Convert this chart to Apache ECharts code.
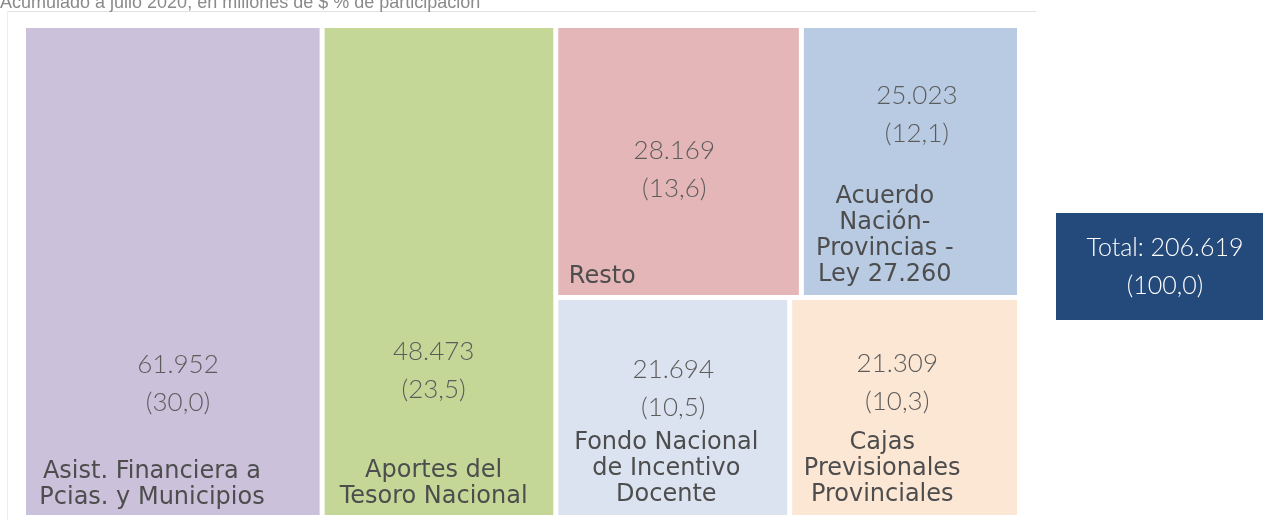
<!DOCTYPE html>
<html>
<head>
<meta charset="utf-8">
<script src="https://cdn.jsdelivr.net/npm/echarts@6/dist/echarts.min.js"></script>
<style>
  html, body { margin: 0; padding: 0; background: #fff; }
  #chart { width: 1263px; height: 524px; }
</style>
</head>
<body>
<div id="chart"></div>
<script>
// datos: acumulado a julio 2020, millones de $
const categories = [
    'Asist. Financiera a\nPcias. y Municipios',
    'Aportes del\nTesoro Nacional',
    'Resto',
    'Acuerdo\nNación-\nProvincias -\nLey 27.260',
    'Fondo Nacional\nde Incentivo\nDocente',
    'Cajas\nPrevisionales\nProvinciales'
];
const values = [61952, 48473, 28169, 25023, 21694, 21309];
const shares = [30.0, 23.5, 13.6, 12.1, 10.5, 10.3];
const total = 206619;
const totalShare = 100.0;

const colors = ['#cbc1da', '#c4d797', '#e5b6b8', '#b8cbe3', '#dce3f0', '#fce6d4'];

// ubicación de los textos dentro de cada celda
const labelBox = [
    {x: 152, y: 313, gap: 37, shift: -26},
    {x: 109, y: 300, gap: 49, shift: 0},
    {x: 116, y: 99, gap: 56, shift: -72},
    {x: 113, y: 44, gap: 31, shift: -32},
    {x: 115, y: 46, gap: 3, shift: -7},
    {x: 105, y: 40, gap: 9, shift: -15}
];

function fmtNum(v) {
    return String(v).replace(/\B(?=(\d{3})+(?!\d))/g, '.');
}
function fmtPct(p) {
    return '(' + p.toFixed(1).replace('.', ',') + ')';
}

function leaf(i) {
    const b = labelBox[i];
    const pad = b.shift < 0 ? [0, -2 * b.shift, 0, 0] : [0, 0, 0, 2 * b.shift];
    const nameLines = categories[i].split('\n').map(s => '{n|' + s + '}').join('\n');
    return {
        name: categories[i],
        value: values[i],
        itemStyle: {color: colors[i]},
        label: {
            position: [b.x, b.y],
            align: 'center',
            verticalAlign: 'top',
            formatter: '{v|' + fmtNum(values[i]) + '}\n{v|' + fmtPct(shares[i]) + '}\n{g| }\n' + nameLines,
            rich: {
                v: {fontFamily: 'Lato', fontWeight: 300, fontSize: 26, color: '#5c5c5c', lineHeight: 38},
                g: {fontSize: 1, lineHeight: b.gap},
                n: {fontFamily: 'DejaVu Sans', fontSize: 24, color: '#4d4d4d', lineHeight: 26, padding: pad}
            }
        }
    };
}

const chart = echarts.init(document.getElementById('chart'));

const option = {
    backgroundColor: '#fff',
    animation: false,
    tooltip: {show: false},
    graphic: [
        {
            type: 'line',
            shape: {x1: 7, y1: 11.5, x2: 1036, y2: 11.5},
            style: {stroke: '#e2e2e2', lineWidth: 1}
        },
        {
            type: 'line',
            shape: {x1: 7.5, y1: 11, x2: 7.5, y2: 520},
            style: {stroke: '#eeeeee', lineWidth: 1}
        },
        {
            type: 'text',
            left: 0,
            top: -6,
            style: {
                text: 'Acumulado a julio 2020, en millones de $ % de participación',
                fontFamily: 'Liberation Sans',
                fontSize: 18,
                fill: '#8a8a8a'
            }
        },
        {
            type: 'group',
            right: 0,
            top: 213,
            children: [
                {
                    type: 'rect',
                    shape: {x: 0, y: 0, width: 207, height: 107},
                    style: {fill: '#234a7b'}
                },
                {
                    type: 'text',
                    x: 109,
                    y: 53.5,
                    style: {
                        text: 'Total: ' + fmtNum(total) + '\n' + fmtPct(totalShare),
                        fontFamily: 'Lato',
                        fontWeight: 300,
                        fontSize: 25,
                        lineHeight: 38,
                        fill: '#ffffff',
                        align: 'center',
                        verticalAlign: 'middle'
                    }
                }
            ]
        }
    ],
    series: [
        {
            type: 'treemap',
            left: 23.5,
            top: 25.5,
            width: 996,
            height: 492,
            sort: false,
            squareRatio: 1,
            roam: false,
            nodeClick: false,
            breadcrumb: {show: false},
            emphasis: {disabled: true},
            label: {show: true, overflow: 'none'},
            upperLabel: {show: false},
            levels: [
                {itemStyle: {borderWidth: 0, gapWidth: 0, borderColor: '#fff'}},
                {itemStyle: {borderWidth: 2.5, gapWidth: 0, borderColor: '#fff'}},
                {itemStyle: {borderWidth: 2.5, gapWidth: 0, borderColor: '#fff'}}
            ],
            data: [
                leaf(0),
                leaf(1),
                {
                    name: 'grupo',
                    itemStyle: {borderWidth: 0, gapWidth: 0, borderColor: '#fff', color: '#fff'},
                    label: {show: false},
                    children: [leaf(2), leaf(3), leaf(4), leaf(5)]
                }
            ]
        }
    ]
};

chart.setOption(option);
</script>
</body>
</html>
